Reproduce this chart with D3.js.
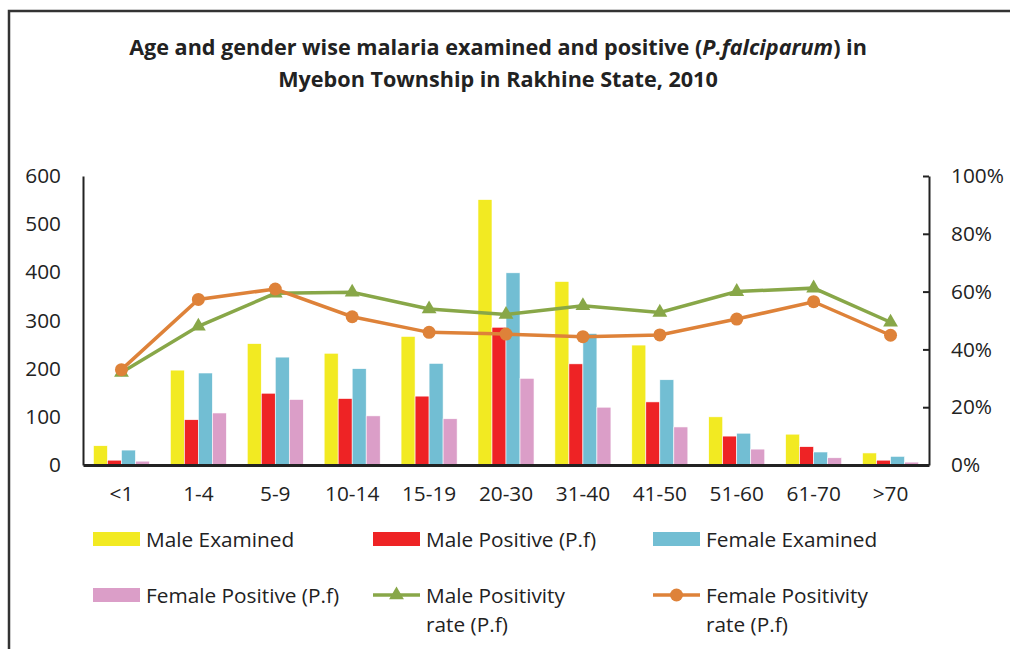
<!DOCTYPE html>
<html>
<head>
<meta charset="utf-8">
<script src="https://cdn.jsdelivr.net/npm/d3@7"></script>
<style>
  body { margin: 0; background: #fff; }
  svg { display: block; font-family: "Open Sans", Lato, sans-serif; }
</style>
</head>
<body>
<script>
// data
var ageGroups = ["<1","1-4","5-9","10-14","15-19","20-30","31-40","41-50","51-60","61-70",">70"];
var maleExamined   = [40, 197, 252, 232, 267, 551, 381, 249, 100, 64, 25];
var malePositive   = [10, 94, 149, 138, 143, 286, 210, 131, 60, 38, 10];
var femaleExamined = [31, 191, 224, 200, 211, 399, 273, 177, 66, 27, 18];
var femalePositive = [8, 108, 136, 102, 96, 180, 120, 79, 33, 15, 6];
var maleRate   = [0.32, 0.48, 0.594, 0.598, 0.54, 0.521, 0.551, 0.528, 0.60, 0.612, 0.494];
var femaleRate = [0.33, 0.573, 0.609, 0.513, 0.459, 0.453, 0.444, 0.45, 0.505, 0.565, 0.449];
var leftTicks  = [0, 100, 200, 300, 400, 500, 600];
var rightTicks = [0, 0.2, 0.4, 0.6, 0.8, 1];

var barSeries = [
  {name: "Male Examined", values: maleExamined, color: "#F2EA22"},
  {name: "Male Positive (P.f)", values: malePositive, color: "#EE2325"},
  {name: "Female Examined", values: femaleExamined, color: "#72BED3"},
  {name: "Female Positive (P.f)", values: femalePositive, color: "#DB9EC8"}
];
var lineSeries = [
  {name: ["Male Positivity", "rate (P.f)"], values: maleRate, color: "#88A748", marker: "triangle"},
  {name: ["Female Positivity", "rate (P.f)"], values: femaleRate, color: "#DE8239", marker: "circle"}
];

var width = 1010, height = 649;
var svg = d3.select("body").append("svg")
  .attr("width", width).attr("height", height);

// frame
svg.append("path")
  .attr("d", "M9,660 L9,11 L1020,11")
  .attr("fill", "none").attr("stroke", "#333").attr("stroke-width", 2.5);

// title
var title = svg.append("text")
  .attr("text-anchor", "middle")
  .attr("font-weight", "bold").attr("font-size", 21.6).attr("fill", "#222");
var t1 = title.append("tspan").attr("x", 498).attr("y", 55);
t1.append("tspan").text("Age and gender wise malaria examined and positive (");
t1.append("tspan").attr("font-style", "italic").text("P.falciparum");
t1.append("tspan").text(") in");
title.append("tspan").attr("x", 498).attr("y", 87).text("Myebon Township in Rakhine State, 2010");

// scales
var x0 = d3.scaleBand().domain(ageGroups).range([83, 929]);
var x1 = d3.scaleBand().domain(barSeries.map(function(d){ return d.name; }))
  .range([0, x0.bandwidth()]).paddingOuter(0.745);
var y = d3.scaleLinear().domain([0, 600]).range([465, 176]);
var y2 = d3.scaleLinear().domain([0, 1]).range([465, 176]);

// bars
barSeries.forEach(function(s){
  svg.append("g").selectAll("rect")
    .data(s.values)
    .enter()
    .append("rect")
      .attr("x", function(d,i){ return x0(ageGroups[i]) + x1(s.name); })
      .attr("y", function(d){ return y(d); })
      .attr("width", x1.bandwidth())
      .attr("height", function(d){ return y(0) - y(d); })
      .attr("fill", s.color)
      .attr("stroke", "#fff").attr("stroke-width", 0.6);
});

// axes
var leftAxis = svg.append("g")
  .attr("transform", "translate(83,0)")
  .call(d3.axisLeft(y).tickValues(leftTicks).tickSize(0).tickPadding(22));
leftAxis.select(".domain").attr("stroke", "#222").attr("stroke-width", 2);

var rightAxis = svg.append("g")
  .attr("transform", "translate(929,0)")
  .call(d3.axisRight(y2).tickValues(rightTicks).tickSizeInner(-6).tickSizeOuter(0)
    .tickPadding(22).tickFormat(d3.format(".0%")));
rightAxis.select(".domain").attr("stroke", "#222").attr("stroke-width", 2);
rightAxis.selectAll(".tick line").attr("stroke", "#222").attr("stroke-width", 2);

var bottomAxis = svg.append("g")
  .attr("transform", "translate(0,465)")
  .call(d3.axisBottom(x0).tickSize(0).tickPadding(21));
bottomAxis.select(".domain").attr("stroke", "#222").attr("stroke-width", 3);

svg.selectAll(".tick text").attr("font-size", 20.8).attr("fill", "#222")
  .attr("font-family", "'Open Sans', Lato, sans-serif");

// lines
var tri = d3.symbol().type(d3.symbolTriangle).size(95);
var line = d3.line()
  .x(function(d,i){ return x0(ageGroups[i]) + x0.bandwidth()/2; })
  .y(function(d){ return y2(d); });

lineSeries.forEach(function(s){
  svg.append("path")
    .datum(s.values)
    .attr("d", line)
    .attr("fill", "none").attr("stroke", s.color).attr("stroke-width", 3.5);
  var pts = svg.append("g").selectAll("path")
    .data(s.values).enter();
  if (s.marker == "circle") {
    pts.append("circle")
      .attr("cx", function(d,i){ return x0(ageGroups[i]) + x0.bandwidth()/2; })
      .attr("cy", function(d){ return y2(d); })
      .attr("r", 6.5).attr("fill", s.color);
  } else {
    pts.append("path")
      .attr("d", tri)
      .attr("transform", function(d,i){
        return "translate(" + (x0(ageGroups[i]) + x0.bandwidth()/2) + "," + y2(d) + ")";
      })
      .attr("fill", s.color);
  }
});

// legend
var legendX = [93, 373, 653];
var legendItems = barSeries.concat(lineSeries);
legendItems.forEach(function(s, i){
  var col = i % 3, row = Math.floor(i / 3);
  var lx = legendX[col], ly = 539 + row * 56;
  var g = svg.append("g");
  if (s.marker) {
    g.append("line").attr("x1", lx).attr("x2", lx + 47).attr("y1", ly).attr("y2", ly)
      .attr("stroke", s.color).attr("stroke-width", 3.5);
    if (s.marker == "circle") {
      g.append("circle").attr("cx", lx + 23.5).attr("cy", ly).attr("r", 6.5).attr("fill", s.color);
    } else {
      g.append("path").attr("d", tri)
        .attr("transform", "translate(" + (lx + 23.5) + "," + ly + ")").attr("fill", s.color);
    }
  } else {
    g.append("rect").attr("x", lx).attr("y", ly - 7).attr("width", 47).attr("height", 14)
      .attr("fill", s.color);
  }
  var names = Array.isArray(s.name) ? s.name : [s.name];
  names.forEach(function(n, k){
    g.append("text").attr("x", lx + 53).attr("y", ly + 7.5 + k * 29)
      .attr("font-size", 20.8).attr("fill", "#222").text(n);
  });
});
</script>
</body>
</html>
